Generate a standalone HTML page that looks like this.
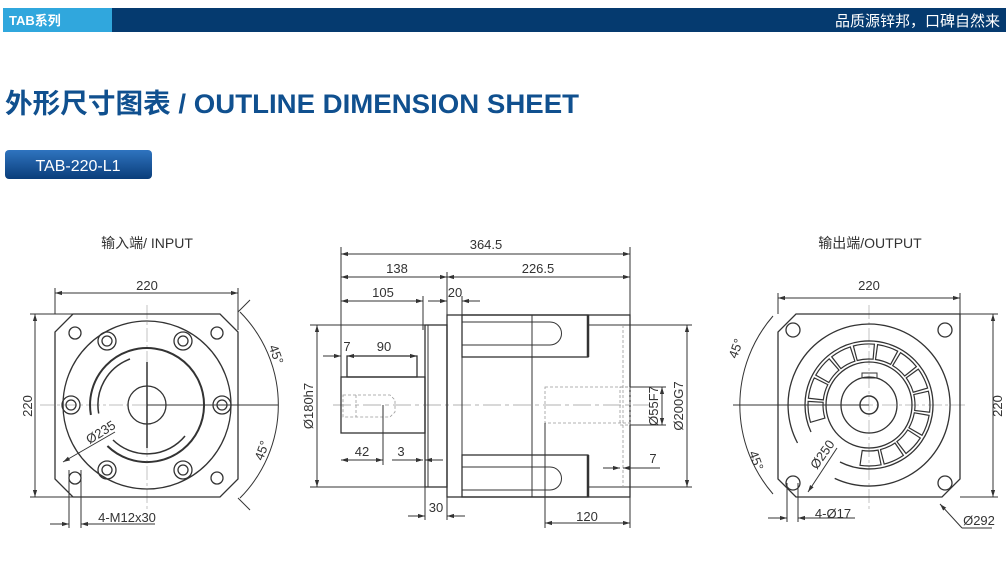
<!DOCTYPE html>
<html><head><meta charset="utf-8"><style>
html,body{margin:0;padding:0;background:#fff;width:1008px;height:583px;overflow:hidden}
svg{display:block}
text{font-family:"Liberation Sans","Noto Sans CJK SC",sans-serif;fill:#333}
.d{font-size:13px}
</style></head><body>
<svg id="s" width="1008" height="583" viewBox="0 0 1008 583" xmlns="http://www.w3.org/2000/svg">
<defs>
<marker id="a" viewBox="0 0 10 10" refX="10" refY="5" markerWidth="7" markerHeight="7" orient="auto-start-reverse"><path d="M0,2 L10,5 L0,8z" fill="#333"/></marker>
<linearGradient id="g" x1="0" y1="0" x2="0" y2="1"><stop offset="0" stop-color="#2f74bf"/><stop offset="1" stop-color="#0a3d7a"/></linearGradient>
</defs>
<rect x="3" y="8" width="110" height="24" fill="#30a7dd"/>
<rect x="112" y="8" width="894" height="24" fill="#053a6f"/>
<text x="9" y="25" style="font-size:13px;font-weight:bold;fill:#fff">TAB系列</text>
<text x="1000" y="26" text-anchor="end" style="font-size:15px;fill:#fff">品质源锌邦，口碑自然来</text>
<text x="5" y="113" textLength="574" lengthAdjust="spacingAndGlyphs" style="font-size:27px;font-weight:bold;fill:#10508f">外形尺寸图表 / OUTLINE DIMENSION SHEET</text>
<rect x="5" y="150" width="147" height="29" rx="4" fill="url(#g)"/>
<text x="78" y="171" text-anchor="middle" style="font-size:16px;fill:#fff">TAB-220-L1</text>
<text x="147" y="248" text-anchor="middle" style="font-size:14px">输入端/ INPUT</text>
<text x="870" y="248" text-anchor="middle" style="font-size:14px">输出端/OUTPUT</text>

<g fill="none" stroke="#333" stroke-width="1">
<g stroke="#aaa" stroke-width="0.7" stroke-dasharray="14 3 3 3"><line x1="40" y1="405" x2="255" y2="405"/><line x1="147" y1="305" x2="147" y2="510"/></g>
<path d="M73,314 H220 L238,332 V479 L220,497 H73 L55,479 V332 Z" stroke-width="1.3"/>
<line x1="55" y1="288" x2="55" y2="314"/><line x1="238" y1="288" x2="238" y2="330"/>
<line x1="55" y1="293" x2="238" y2="293" marker-start="url(#a)" marker-end="url(#a)"/>
<line x1="30" y1="314" x2="73" y2="314"/><line x1="30" y1="497" x2="73" y2="497"/>
<line x1="35" y1="314" x2="35" y2="497" marker-start="url(#a)" marker-end="url(#a)"/>
<circle cx="147" cy="405" r="84" stroke-width="1.3"/>
<path d="M90.9,414.9 A57,57 0 1 1 107.4,446" stroke-width="2"/>
<path d="M98.7,413.5 A49,49 0 0 1 130,359" stroke-width="1.5"/>
<path d="M113,440 A49,49 0 0 0 185,436" stroke-width="1.5"/>
<circle cx="147" cy="405" r="19" stroke-width="1.3"/>
<line x1="147" y1="362" x2="147" y2="448" stroke-width="1.5"/>
<g stroke-width="1.3">
<circle cx="107" cy="341" r="9"/><circle cx="107" cy="341" r="5"/>
<circle cx="183" cy="341" r="9"/><circle cx="183" cy="341" r="5"/>
<circle cx="71" cy="405" r="9"/><circle cx="71" cy="405" r="5"/>
<circle cx="222" cy="405" r="9"/><circle cx="222" cy="405" r="5"/>
<circle cx="107" cy="470" r="9"/><circle cx="107" cy="470" r="5"/>
<circle cx="183" cy="470" r="9"/><circle cx="183" cy="470" r="5"/>
<circle cx="75" cy="333" r="6"/><circle cx="217" cy="333" r="6"/><circle cx="75" cy="478" r="6"/><circle cx="217" cy="478" r="6"/>
</g>
<path d="M240,312 A132,132 0 0 1 240,498"/>
<line x1="147" y1="405" x2="278" y2="405"/>
<line x1="238" y1="312" x2="250" y2="300"/><line x1="238" y1="498" x2="250" y2="510"/>
<line x1="63" y1="462" x2="115" y2="432" marker-start="url(#a)"/>
<line x1="69" y1="470" x2="69" y2="528"/><line x1="81" y1="470" x2="81" y2="528"/>
<line x1="50" y1="524" x2="69" y2="524" marker-end="url(#a)"/><line x1="100" y1="524" x2="81" y2="524" marker-end="url(#a)"/>
<line x1="81" y1="524" x2="155" y2="524"/>

<line x1="333" y1="405" x2="650" y2="405" stroke="#999" stroke-width="0.7" stroke-dasharray="18 4 4 4"/>
<line x1="341" y1="247" x2="341" y2="377"/><line x1="630" y1="247" x2="630" y2="315"/><line x1="447" y1="272" x2="447" y2="315"/><line x1="423" y1="296" x2="423" y2="330"/><line x1="462" y1="296" x2="462" y2="315"/>
<line x1="341" y1="254" x2="630" y2="254" marker-start="url(#a)" marker-end="url(#a)"/>
<line x1="341" y1="277" x2="447" y2="277" marker-start="url(#a)" marker-end="url(#a)"/>
<line x1="447" y1="277" x2="630" y2="277" marker-start="url(#a)" marker-end="url(#a)"/>
<line x1="341" y1="301" x2="423" y2="301" marker-start="url(#a)" marker-end="url(#a)"/>
<line x1="428" y1="301" x2="447" y2="301" marker-end="url(#a)"/><line x1="480" y1="301" x2="462" y2="301" marker-end="url(#a)"/>
<rect x="341" y="377" width="84" height="56" stroke-width="1.3"/>
<rect x="347" y="356" width="70" height="21" stroke-width="1.3"/>
<rect x="425" y="325" width="22" height="162" stroke-width="1.3"/><line x1="428" y1="325" x2="428" y2="487"/>
<rect x="447" y="315" width="183" height="182" stroke-width="1.3"/>
<line x1="462" y1="315" x2="462" y2="497"/><line x1="532" y1="315" x2="532" y2="497"/>
<rect x="462" y="315" width="126" height="42" stroke-width="1.3"/><rect x="462" y="455" width="126" height="42" stroke-width="1.3"/>
<path d="M462,322 H550 A11.5,11.5 0 0 1 550,345 H462"/>
<path d="M462,467 H550 A11.5,11.5 0 0 1 550,490 H462"/>
<line x1="588" y1="315" x2="588" y2="357" stroke-width="2.5"/><line x1="588" y1="455" x2="588" y2="497" stroke-width="2.5"/>
<line x1="588" y1="325" x2="630" y2="325"/><line x1="588" y1="487" x2="630" y2="487"/>
<g stroke="#999" stroke-dasharray="3 2" stroke-width="0.8">
<rect x="545" y="387" width="85" height="36"/><rect x="620" y="387" width="10" height="38"/><line x1="623" y1="325" x2="623" y2="487"/>
<path d="M343,395 H390 L395,400 V412 L390,417 H343 Z"/><line x1="356" y1="395" x2="356" y2="417"/>
</g>
<line x1="545" y1="423" x2="545" y2="528"/>
<line x1="383" y1="405" x2="383" y2="465"/>
<line x1="310" y1="325" x2="425" y2="325"/><line x1="310" y1="487" x2="425" y2="487"/>
<line x1="317" y1="325" x2="317" y2="487" marker-start="url(#a)" marker-end="url(#a)"/>
<line x1="630" y1="325" x2="692" y2="325"/><line x1="630" y1="487" x2="692" y2="487"/>
<line x1="687" y1="325" x2="687" y2="487" marker-start="url(#a)" marker-end="url(#a)"/>
<line x1="630" y1="387" x2="666" y2="387"/><line x1="630" y1="425" x2="666" y2="425"/>
<line x1="662" y1="387" x2="662" y2="425" marker-start="url(#a)" marker-end="url(#a)"/>
<line x1="323" y1="356" x2="341" y2="356" marker-end="url(#a)"/><line x1="347" y1="356" x2="417" y2="356" marker-start="url(#a)" marker-end="url(#a)"/>
<line x1="341" y1="460" x2="383" y2="460" marker-start="url(#a)" marker-end="url(#a)"/>
<line x1="392" y1="460" x2="423" y2="460" marker-end="url(#a)"/><line x1="443" y1="460" x2="425" y2="460" marker-end="url(#a)"/>
<line x1="425" y1="487" x2="425" y2="520"/><line x1="447" y1="497" x2="447" y2="520"/>
<line x1="408" y1="516" x2="425" y2="516" marker-end="url(#a)"/><line x1="465" y1="516" x2="447" y2="516" marker-end="url(#a)"/>
<line x1="630" y1="497" x2="630" y2="528"/>
<line x1="545" y1="523" x2="630" y2="523" marker-start="url(#a)" marker-end="url(#a)"/>
<line x1="603" y1="468" x2="620" y2="468" marker-end="url(#a)"/><line x1="660" y1="468" x2="623" y2="468" marker-end="url(#a)"/>

<g stroke="#aaa" stroke-width="0.7" stroke-dasharray="14 3 3 3"><line x1="790" y1="405" x2="965" y2="405"/><line x1="869" y1="305" x2="869" y2="510"/></g>
<path d="M796,314 H960 V479 L942,497 H796 L778,479 V332 Z" stroke-width="1.3"/>
<line x1="778" y1="293" x2="778" y2="314"/><line x1="960" y1="293" x2="960" y2="314"/>
<line x1="778" y1="298" x2="960" y2="298" marker-start="url(#a)" marker-end="url(#a)"/>
<line x1="940" y1="314" x2="998" y2="314"/><line x1="960" y1="497" x2="998" y2="497"/>
<line x1="993" y1="314" x2="993" y2="497" marker-start="url(#a)" marker-end="url(#a)"/>
<g stroke-width="1.3"><circle cx="793" cy="330" r="7"/><circle cx="945" cy="330" r="7"/><circle cx="793" cy="483" r="7"/><circle cx="945" cy="483" r="7"/></g>
<path d="M797.5,443 A81,81 0 1 1 834.7,478.4" stroke-width="1.3"/>
<path d="M811,432 A64,64 0 1 1 840,462" stroke-width="1.3"/>
<g id="seg" stroke-width="1.2"></g>
<circle cx="869" cy="405" r="43" stroke-width="1.3"/>
<circle cx="869" cy="405" r="28" stroke-width="1.3"/>
<circle cx="869" cy="405" r="9" stroke-width="1.5"/>
<rect x="862" y="373" width="15" height="5"/>
<path d="M773,316 A136,136 0 0 0 773,494"/>
<line x1="733" y1="405" x2="869" y2="405"/>
<line x1="787" y1="483" x2="787" y2="522"/><line x1="798" y1="483" x2="798" y2="522"/>
<line x1="768" y1="518" x2="787" y2="518" marker-end="url(#a)"/><line x1="815" y1="518" x2="798" y2="518" marker-end="url(#a)"/>
<line x1="798" y1="518" x2="855" y2="518"/>
<line x1="940" y1="504" x2="962" y2="528" marker-start="url(#a)"/><line x1="962" y1="528" x2="992" y2="528"/>
<line x1="808" y1="492" x2="837" y2="448" marker-start="url(#a)"/>
</g>

<g class="d">
<text x="147" y="290" text-anchor="middle" class="d">220</text>
<text transform="translate(32,406) rotate(-90)" text-anchor="middle" class="d">220</text>
<text transform="translate(103,436) rotate(-32)" text-anchor="middle" class="d">Ø235</text>
<text transform="translate(272,356) rotate(70)" text-anchor="middle" class="d">45°</text>
<text transform="translate(266,452) rotate(-70)" text-anchor="middle" class="d">45°</text>
<text x="127" y="522" text-anchor="middle" class="d">4-M12x30</text>
<text x="486" y="249" text-anchor="middle" class="d">364.5</text>
<text x="397" y="273" text-anchor="middle" class="d">138</text>
<text x="538" y="273" text-anchor="middle" class="d">226.5</text>
<text x="383" y="297" text-anchor="middle" class="d">105</text>
<text x="455" y="297" text-anchor="middle" class="d">20</text>
<text x="347" y="351" text-anchor="middle" class="d">7</text>
<text x="384" y="351" text-anchor="middle" class="d">90</text>
<text x="362" y="456" text-anchor="middle" class="d">42</text>
<text x="401" y="456" text-anchor="middle" class="d">3</text>
<text x="436" y="512" text-anchor="middle" class="d">30</text>
<text x="587" y="521" text-anchor="middle" class="d">120</text>
<text x="653" y="463" text-anchor="middle" class="d">7</text>
<text transform="translate(313,406) rotate(-90)" text-anchor="middle" class="d">Ø180h7</text>
<text transform="translate(683,406) rotate(-90)" text-anchor="middle" class="d">Ø200G7</text>
<text transform="translate(658,406) rotate(-90)" text-anchor="middle" class="d">Ø55F7</text>
<text x="869" y="290" text-anchor="middle" class="d">220</text>
<text transform="translate(1002,406) rotate(-90)" text-anchor="middle" class="d">220</text>
<text transform="translate(740,350) rotate(-70)" text-anchor="middle" class="d">45°</text>
<text transform="translate(752,462) rotate(70)" text-anchor="middle" class="d">45°</text>
<text transform="translate(826,457) rotate(-55)" text-anchor="middle" class="d">Ø250</text>
<text x="833" y="518" text-anchor="middle" class="d">4-Ø17</text>
<text x="979" y="525" text-anchor="middle" class="d">Ø292</text>
</g>
</svg>
<script>
(function(){var g=document.getElementById('seg'),cx=869,cy=405,ro=61,ri=46,h='';
function p(r,a){a=a*Math.PI/180;return (cx+r*Math.cos(a)).toFixed(1)+','+(cy+r*Math.sin(a)).toFixed(1);}
var start=162,n=13,step=(460-start)/n;
for(var i=0;i<n;i++){var a1=start+i*step+1.5,a2=start+(i+1)*step-1.5;
h+='<path d="M'+p(ro,a1)+' A'+ro+','+ro+' 0 0 1 '+p(ro,a2)+' L'+p(ri,a2)+' A'+ri+','+ri+' 0 0 0 '+p(ri,a1)+' Z"/>';}
g.innerHTML=h;})();
</script>
</body></html>
